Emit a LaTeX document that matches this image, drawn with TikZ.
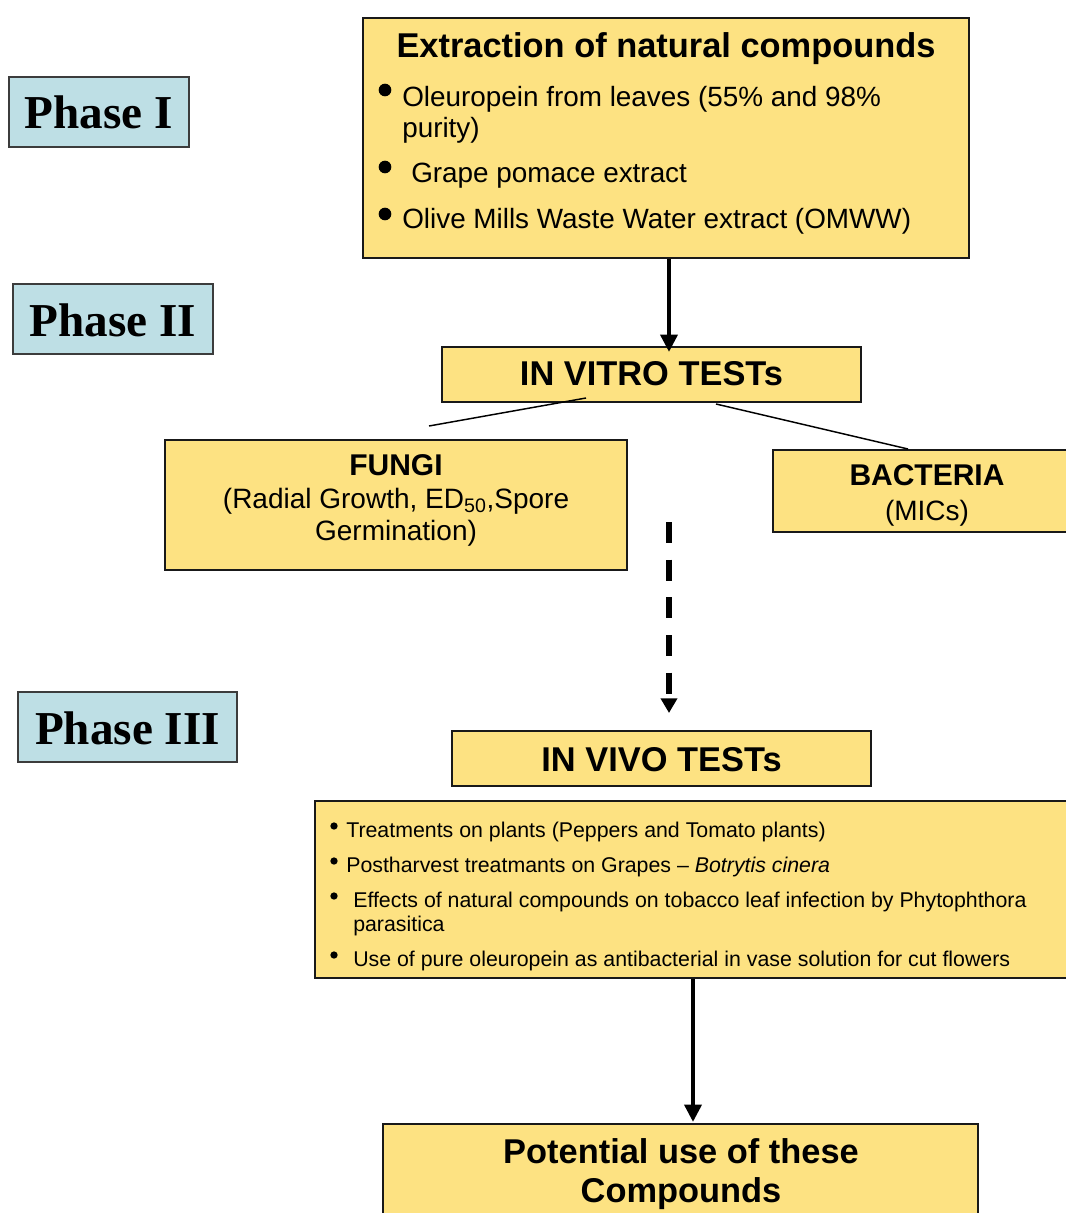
\documentclass[tikz,border=0pt]{standalone}
\usepackage{fontspec}
\setmainfont{Liberation Sans}
\newfontfamily\timesfont{Liberation Serif}
\usetikzlibrary{arrows.meta,fit,calc}
\definecolor{boxyellow}{RGB}{253,226,130}
\definecolor{boxblue}{RGB}{190,223,229}
\definecolor{edge}{RGB}{25,25,25}
\begin{document}
\begin{tikzpicture}[x=0.75pt,y=-0.75pt,
  ybox/.style={draw=edge,fill=boxyellow,line width=1.5pt,inner sep=0pt},
  pbox/.style={draw=edge!85,fill=boxblue,line width=1.2pt,inner sep=0pt},
  ptext/.style={inner sep=0pt,font=\timesfont\bfseries\fontsize{35.4}{40}\selectfont},
  title/.style={inner sep=0pt,font=\fontsize{25.8}{30}\selectfont\bfseries},
  body/.style={inner sep=0pt,font=\fontsize{20.9}{24}\selectfont},
  sub/.style={inner sep=0pt,font=\fontsize{22.5}{26}\selectfont\bfseries},
  body2/.style={inner sep=0pt,font=\fontsize{21}{24}\selectfont},
  small/.style={inner sep=0pt,font=\fontsize{16}{18}\selectfont},
  dot/.style={circle,fill=black,inner sep=0pt,minimum size=#1},
  arr/.style={line width=3.4pt,-{Triangle[width=12.5pt,length=13pt]}},
  darr/.style={line width=3.8pt,dash pattern=on 15.75pt off 12.5pt,-{Triangle[width=12pt,length=11pt]}},
  thinline/.style={line width=1.1pt}
]
\fill[white] (0,0) rectangle (1066,1213);
\clip (0,0) rectangle (1066,1213);

% Phase labels
\node[pbox,fit={(9,77)(189,147)}] (ph1) {};
\node[ptext,anchor=base] (ph1t) at (99,128) {Phase I};
\node[pbox,fit={(13,284)(213,354)}] (ph2) {};
\node[ptext,anchor=base] (ph2t) at (113,336) {Phase II};
\node[pbox,fit={(18,692)(237,762)}] (ph3) {};
\node[ptext,anchor=base] (ph3t) at (127.5,744) {Phase III};

% Extraction box
\node[ybox,fit={(363,18)(969,258)}] (ext) {};
\node[title,anchor=base] (extT) at (666,58) {Extraction of natural compounds};
\node[dot=9.5pt] (eb1) at (385,90) {};
\node[dot=9.5pt] (eb2) at (385,167) {};
\node[dot=9.5pt] (eb3) at (385,214) {};
\node[body,anchor=base west] (e1) at (402,106) {Oleuropein from leaves (55\% and 98\%};
\node[body,anchor=base west] (e1b) at (402,137) {purity)};
\node[body,anchor=base west] (e2) at (411,182) {Grape pomace extract};
\node[body,anchor=base west] (e3) at (402,228) {Olive Mills Waste Water extract (OMWW)};

% In vitro
\node[ybox,fit={(442,347)(861,402)}] (vitro) {};
\node[title,anchor=base] (vitroT) at (651.5,385) {IN VITRO TESTs};

% Fungi
\node[ybox,fit={(165,440)(627,570)}] (fungi) {};
\node[sub,anchor=base] (f1) at (396,475) {FUNGI};
\node[body2,anchor=base] (f2) at (396,508) {(Radial Growth, ED\textsubscript{50},Spore};
\node[body2,anchor=base] (f3) at (396,540) {Germination)};

% Bacteria
\node[ybox,fit={(773,450)(1081,532)}] (bact) {};
\node[sub,anchor=base] (b1) at (927,485) {BACTERIA};
\node[body2,anchor=base] (b2) at (927,520) {(MICs)};

% In vivo
\node[ybox,fit={(452,731)(871,786)}] (vivo) {};
\node[title,anchor=base] (vivoT) at (661.5,771) {IN VIVO TESTs};

% Bullet box
\node[ybox,fit={(315,801)(1080,978)}] (bul) {};
\node[dot=5.5pt] (bb1) at (334,826) {};
\node[dot=5.5pt] (bb2) at (334,861) {};
\node[dot=5.5pt] (bb3) at (334,896) {};
\node[dot=5.5pt] (bb4) at (334,955) {};
\node[small,anchor=base west] (u1) at (346,837) {Treatments on plants (Peppers and Tomato plants)};
\node[small,anchor=base west] (u2) at (346,872) {Postharvest treatmants on Grapes – \textit{Botrytis cinera}};
\node[small,anchor=base west] (u3) at (353,907) {Effects of natural compounds on tobacco leaf infection by Phytophthora};
\node[small,anchor=base west] (u3b) at (353,931) {parasitica};
\node[small,anchor=base west] (u4) at (353,966) {Use of pure oleuropein as antibacterial in vase solution for cut flowers};

% Potential
\node[ybox,fit={(383,1124)(978,1240)}] (pot) {};
\node[title,anchor=base] (p1) at (681,1163) {Potential use of these};
\node[title,anchor=base] (p2) at (681,1202) {Compounds};

% connectors
\coordinate (lfree) at (429,426);
\coordinate (dtop) at (669,522);
\draw[arr] ($(ext.south)+(3,0)$) -- ($(vitro.north)+(17.5,6)$);
\draw[thinline] ($(vitro.south)+(-65.5,-5)$) -- (lfree);
\draw[thinline] ($(vitro.south)+(64.5,1)$) -- ($(bact.north)+(-19,0)$);
\draw[darr] (dtop) -- ($(vivo.north)+(7.5,-17)$);
\draw[arr] ($(bul.south)+(-4.5,0)$) -- ($(pot.north)+(12.5,-1)$);
\end{tikzpicture}
\end{document}
